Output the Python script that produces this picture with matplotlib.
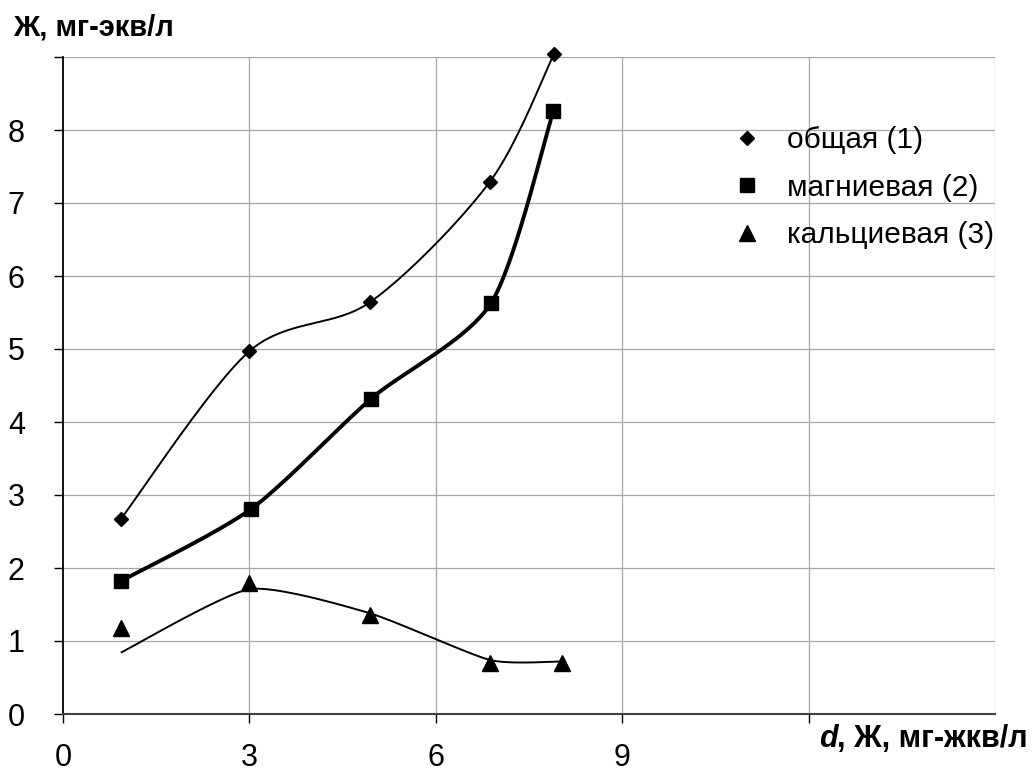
import numpy as np
import matplotlib
matplotlib.use('Agg')
import matplotlib.pyplot as plt
from matplotlib.lines import Line2D

plt.rcParams['font.family'] = ['Liberation Sans', 'DejaVu Sans']

# ---- data ----
x_total = [0.93, 3.00, 4.94, 6.87, 7.90]
y_total = [2.67, 4.97, 5.64, 7.29, 9.04]

x_mg = [0.93, 3.03, 4.96, 6.89, 7.89]
y_mg = [1.82, 2.81, 4.32, 5.63, 8.26]

x_ca = [0.93, 3.00, 4.94, 6.87, 8.03]
y_ca = [1.18, 1.79, 1.36, 0.70, 0.70]

# smoothed curve drawn for the calcium series (does not pass exactly through markers)
x_ca_line = [0.93, 3.00, 4.94, 6.87, 8.03]
y_ca_line = [0.84, 1.71, 1.38, 0.74, 0.72]

series_labels = ['общая (1)', 'магниевая (2)', 'кальциевая (3)']
x_ticks = [0, 3, 6, 9, 12]
x_ticklabels = ['0', '3', '6', '9', '']
x_grid = [3, 6, 9, 12, 15]
y_ticks = list(range(10))
y_ticklabels = [str(i) for i in range(9)] + ['']

title_text = 'Ж, мг-экв/л'
xlabel_italic = 'd'
xlabel_rest = ', Ж, мг-жкв/л'


def smooth(xs, ys, n=40, f=1 / 6.0):
    """Excel-like smoothed line (Catmull-Rom Bezier)."""
    P = np.column_stack([xs, ys]).astype(float)
    Pe = np.vstack([P[0], P, P[-1]])
    out = []
    t = np.linspace(0, 1, n)[:, None]
    for i in range(len(P) - 1):
        p0, p1, p2, p3 = Pe[i], Pe[i + 1], Pe[i + 2], Pe[i + 3]
        c1 = p1 + (p2 - p0) * f
        c2 = p2 - (p3 - p1) * f
        seg = (1 - t) ** 3 * p1 + 3 * (1 - t) ** 2 * t * c1 + 3 * (1 - t) * t ** 2 * c2 + t ** 3 * p2
        out.append(seg if i == 0 else seg[1:])
    return np.vstack(out)


W, H = 1032, 774
fig = plt.figure(figsize=(W / 100, H / 100), dpi=100)
ax = fig.add_axes([63 / W, (H - 714) / H, (995 - 63) / W, (714 - 57) / H])

ax.set_xlim(0, 15)
ax.set_ylim(0, 9)

# grid
for xv in x_grid:
    ax.axvline(xv, color='#a6a6a6', lw=0.9, zorder=1)
for yv in y_ticks[1:]:
    ax.axhline(yv, color='#a6a6a6', lw=0.9, zorder=1)

# curves
s1 = smooth(x_total, y_total, f=0.15)
s2 = smooth(x_mg, y_mg, f=0.13)
s3 = smooth(x_ca_line, y_ca_line, f=0.1)
ax.plot(s1[:, 0], s1[:, 1], color='black', lw=1.4, zorder=3, solid_capstyle='butt')
ax.plot(s2[:, 0], s2[:, 1], color='black', lw=2.8, zorder=3, solid_capstyle='butt')
ax.plot(s3[:, 0], s3[:, 1], color='black', lw=1.4, zorder=3, solid_capstyle='butt')

# markers
ax.plot(x_total, y_total, linestyle='none', marker='D', ms=7.6, color='black', zorder=4, clip_on=False)
ax.plot(x_mg, y_mg, linestyle='none', marker='s', ms=10.5, color='black', zorder=4, clip_on=False)
ax.plot(x_ca, y_ca, linestyle='none', marker='^', ms=11.5, color='black', zorder=4, clip_on=False)

# spines
for side in ['top', 'right']:
    ax.spines[side].set_visible(False)
ax.spines['left'].set_color('black')
ax.spines['left'].set_linewidth(1.3)
ax.spines['bottom'].set_color('#404040')
ax.spines['bottom'].set_linewidth(1.5)

ax.set_xticks(x_ticks)
ax.set_xticklabels(x_ticklabels)
ax.set_yticks(y_ticks)
ax.set_yticklabels(y_ticklabels)
ax.tick_params(axis='both', direction='out', length=6.5, width=1, color='black', labelsize=22)
ax.tick_params(axis='y', pad=21)
ax.tick_params(axis='x', pad=14.5)

# legend
handles = [
    Line2D([], [], linestyle='none', marker='D', ms=7, color='black'),
    Line2D([], [], linestyle='none', marker='s', ms=9.5, color='black'),
    Line2D([], [], linestyle='none', marker='^', ms=11, color='black'),
]
ax.legend(handles, series_labels, loc='upper left',
          bbox_to_anchor=(732 / W, 1 - 126 / H), bbox_transform=fig.transFigure,
          frameon=False, fontsize=21.5, handlelength=1.0, handletextpad=0.84,
          labelspacing=0.66, borderpad=0, borderaxespad=0)

# title (y-axis label) and x label
fig.text(13 / W, 1 - 35 / H, title_text, fontsize=21, fontweight='bold', ha='left', va='baseline')
t_rest = fig.text(1028 / W, 1 - 747 / H, xlabel_rest, fontsize=22, fontweight='bold',
                  ha='right', va='baseline')
fig.canvas.draw()
bb = t_rest.get_window_extent()
fig.text(bb.x0 / W, 1 - 747 / H, xlabel_italic, fontsize=22, fontweight='bold',
         style='italic', ha='right', va='baseline')

fig.savefig('out.png', dpi=100)
